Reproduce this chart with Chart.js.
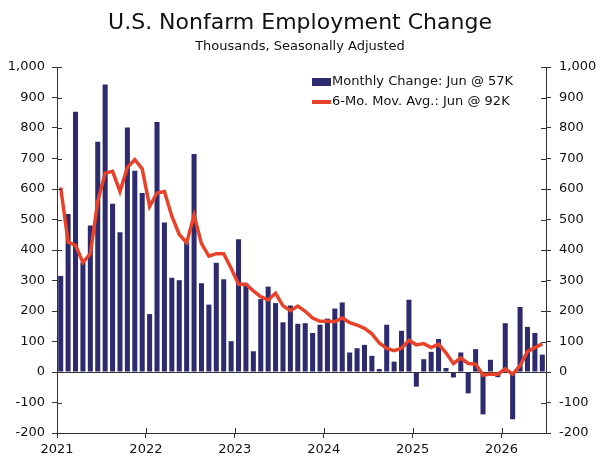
<!DOCTYPE html>
<html>
<head>
<meta charset="utf-8">
<script src="https://cdn.jsdelivr.net/npm/chart.js@4.4.1/dist/chart.umd.min.js"></script>
<style>
  html, body { margin: 0; padding: 0; background: #fff; }
  #wrap { position: relative; width: 600px; height: 460px; }
  #legend { position: absolute; left: 312px; top: 71px; font: 13px "DejaVu Sans", Verdana, sans-serif; color: #111; line-height: 20px; }
  #legend .sw { display: inline-block; width: 19px; vertical-align: middle; margin-right: 1px; }
  #legend .bar { height: 8px; background: #2d2a6e; }
  #legend .line { height: 4px; background: #e8432a; }
</style>
</head>
<body>
<div id="wrap">
  <canvas id="jobsChart" width="600" height="460"></canvas>
  <div id="legend">
    <div><span class="sw bar"></span>Monthly Change: Jun @ 57K</div>
    <div><span class="sw line"></span>6-Mo. Mov. Avg.: Jun @ 92K</div>
  </div>
</div>
<script>
// Jan 2021 .. Jun 2026, thousands
const startYear = 2021;
const monthlyChange = [
    315, 518, 853, 360, 480, 755, 943, 552, 458, 802, 660, 587,
    190, 820, 490, 309, 301, 425, 715, 291, 221, 358, 304, 101,
    435, 290, 68, 239, 280, 226, 163, 218, 158, 160, 128, 155,
    175, 208, 228, 64, 78, 89, 53, 10, 155, 34, 135, 237,
    -48, 42, 66, 108, 13, -18, 64, -70, 75, -139, 40, -17,
    160, -155, 213, 148, 128, 57
];
const movingAvg = [
    605, 426, 415, 359, 388, 560, 652, 658, 592, 671, 696, 666,
    543, 587, 592, 511, 451, 424, 514, 421, 380, 388, 388, 340,
    288, 288, 266, 247, 236, 258, 217, 201, 216, 199, 177, 166,
    166, 165, 177, 162, 154, 143, 125, 95, 77, 70, 78, 104,
    89, 93, 80, 91, 63, 28, 46, 28, 26, -10, -7, -7,
    10, -7, 21, 67, 80, 92
];
const yMin = -200, yMax = 1000, yStep = 100;

const months = monthlyChange.map((v, i) => {
    const y = startYear + Math.floor(i / 12);
    return y + '-' + String(i % 12 + 1).padStart(2, '0');
});

const axisColor = '#333';
const font = { family: '"DejaVu Sans", Verdana, sans-serif', size: 13 };

// ticks that cross the axis line into the plot
const innerTicks = {
    id: 'innerTicks',
    afterDraw(chart) {
        const c = chart.ctx;
        const area = chart.chartArea;
        c.save();
        c.strokeStyle = axisColor;
        c.lineWidth = 1;
        ['y', 'y2'].forEach(id => {
            const s = chart.scales[id];
            const x = id === 'y' ? area.left : area.right;
            const dir = id === 'y' ? 1 : -1;
            s.ticks.forEach(t => {
                const py = Math.round(s.getPixelForValue(t.value)) + 0.5;
                c.beginPath();
                c.moveTo(x, py);
                c.lineTo(x + dir * 5, py);
                c.stroke();
            });
        });
        const sx = chart.scales.years;
        sx.ticks.forEach(t => {
            const px = Math.round(sx.getPixelForValue(t.value)) + 0.5;
            c.beginPath();
            c.moveTo(px, area.bottom);
            c.lineTo(px, area.bottom - 5);
            c.stroke();
        });
        c.restore();
    }
};

const ctx = document.getElementById('jobsChart').getContext('2d');
const jobsChart = new Chart(ctx, {
    data: {
        labels: months,
        datasets: [
            {
                type: 'line',
                label: '6-Mo. Mov. Avg.',
                data: movingAvg,
                borderColor: '#e8432a',
                borderWidth: 3.5,
                pointRadius: 0,
                tension: 0,
                order: 0
            },
            {
                type: 'bar',
                label: 'Monthly Change',
                data: monthlyChange,
                backgroundColor: '#2d2a6e',
                barPercentage: 0.68,
                categoryPercentage: 1,
                order: 1
            }
        ]
    },
    options: {
        responsive: false,
        animation: false,
        layout: { padding: { top: 0, bottom: 1 } },
        plugins: {
            legend: { display: false },
            tooltip: { enabled: false },
            title: {
                display: true,
                text: 'U.S. Nonfarm Employment Change',
                color: '#111',
                font: { family: font.family, size: 22, weight: 'normal' },
                padding: { top: 10, bottom: 0 }
            },
            subtitle: {
                display: true,
                text: 'Thousands, Seasonally Adjusted',
                color: '#111',
                font: { family: font.family, size: 13 },
                padding: { top: 2, bottom: 13 }
            }
        },
        scales: {
            x: {
                type: 'category',
                display: false,
                offset: true
            },
            years: {
                type: 'linear',
                position: 'bottom',
                min: 0,
                max: monthlyChange.length,
                afterFit(s) { s.height = 26; },
                afterBuildTicks(s) {
                    s.ticks = [];
                    for (let v = 0; v < monthlyChange.length; v += 12) s.ticks.push({ value: v });
                },
                ticks: {
                    color: '#111',
                    font: font,
                    padding: 4,
                    maxRotation: 0,
                    callback: v => String(startYear + v / 12)
                },
                grid: { drawOnChartArea: false, tickLength: 5, tickColor: axisColor },
                border: { color: axisColor }
            },
            y: {
                position: 'left',
                min: yMin,
                max: yMax,
                afterFit(s) { s.width = 57; },
                ticks: {
                    stepSize: yStep,
                    color: '#111',
                    font: font,
                    padding: 7,
                    callback: v => v.toLocaleString('en-US')
                },
                grid: {
                    drawOnChartArea: true,
                    color: c => c.tick && c.tick.value === 0 ? axisColor : 'rgba(0,0,0,0)',
                    tickColor: axisColor,
                    tickLength: 5
                },
                border: { color: axisColor }
            },
            y2: {
                position: 'right',
                min: yMin,
                max: yMax,
                afterFit(s) { s.width = 54; },
                ticks: {
                    stepSize: yStep,
                    color: '#111',
                    font: font,
                    padding: 8,
                    callback: v => v.toLocaleString('en-US')
                },
                grid: { drawOnChartArea: false, tickColor: axisColor, tickLength: 5 },
                border: { color: axisColor }
            }
        }
    },
    plugins: [innerTicks]
});
</script>
</body>
</html>
